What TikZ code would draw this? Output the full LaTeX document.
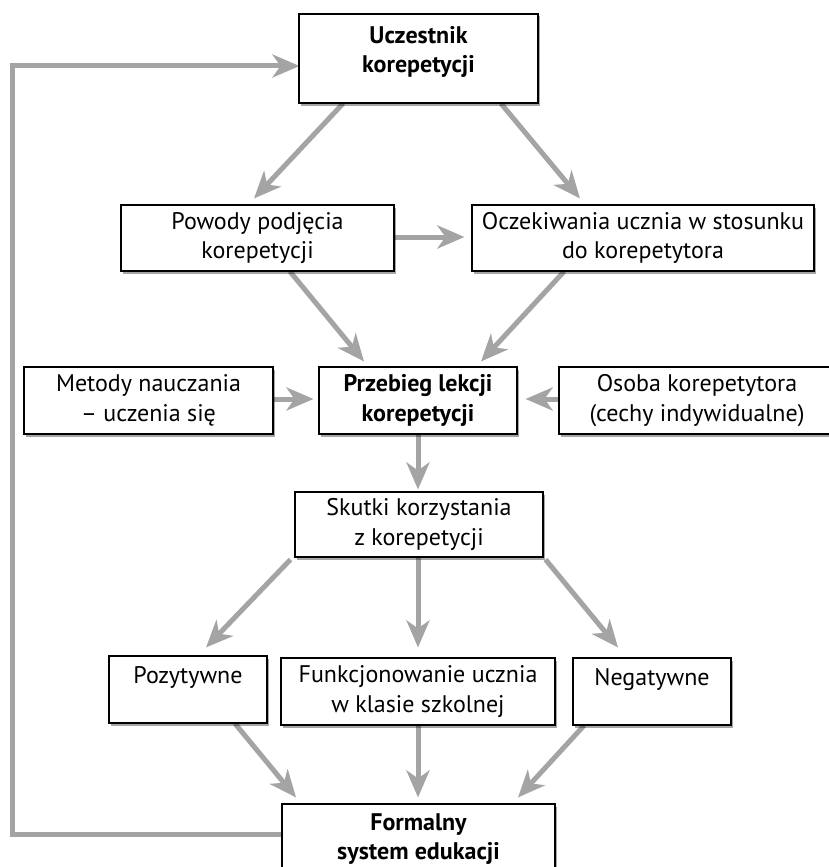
\documentclass[tikz,border=0pt]{standalone}
\usepackage{fontspec}
\setmainfont{PT Sans}
\usetikzlibrary{arrows.meta,shadows}
\pgfdeclarelayer{back}
\pgfdeclarelayer{bg}
\pgfsetlayers{back,bg,main}
\definecolor{arrgray}{HTML}{A4A4A4}
\tikzset{
  box/.style={draw=black, line width=1.1pt, fill=white, rectangle, inner sep=0pt,
    align=center, font=\fontsize{24}{29.5}\selectfont,
    drop shadow={shadow xshift=2pt, shadow yshift=-2.5pt, fill=black, opacity=0.35}},
  bbox/.style={box, font=\fontsize{24}{29.5}\selectfont\bfseries},
  conn/.style={draw=arrgray, line width=5pt,
    -{Stealth[length=27pt,width=23pt,inset=8pt]}}
}
\begin{document}
\begin{tikzpicture}[x=1pt,y=-1pt]
\useasboundingbox (0,0) rectangle (829,867);
\begin{pgfonlayer}{back}
\fill[white] (0,0) rectangle (829,867);
\end{pgfonlayer}
% boxes
\node[bbox, minimum width=239pt, minimum height=89pt] (ucz) at (418.5,58.5) {Uczestnik\\korepetycji\\[-11pt]\mbox{}};
\node[box, minimum width=273pt, minimum height=66pt] (pow) at (257.5,238) {Powody podjęcia\\korepetycji};
\node[box, minimum width=342pt, minimum height=66pt] (ocz) at (643,238) {Oczekiwania ucznia w stosunku\\do korepetytora};
\node[box, minimum width=249pt, minimum height=67pt] (met) at (148.5,400.5) {Metody nauczania\\– uczenia się};
\node[bbox, minimum width=198pt, minimum height=67pt] (prz) at (418,400.5) {Przebieg lekcji\\korepetycji};
\node[box, minimum width=276pt, minimum height=67pt] (oso) at (697,400.5) {Osoba korepetytora\\(cechy indywidualne)};
\node[box, minimum width=248pt, minimum height=65pt] (sku) at (419,524.5) {Skutki korzystania\\z korepetycji};
\node[box, minimum width=158pt, minimum height=67pt] (poz) at (188,689.5) {Pozytywne\\\mbox{}};
\node[box, minimum width=274pt, minimum height=67pt] (fun) at (418,691.5) {Funkcjonowanie ucznia\\w klasie szkolnej};
\node[box, minimum width=158pt, minimum height=67pt] (neg) at (652,691.5) {Negatywne\\\mbox{}};
\node[bbox, minimum width=273pt, minimum height=70pt] (for) at (418.5,839) {Formalny\\system edukacji};
\coordinate (fb) at (12,834);
% connectors
\begin{pgfonlayer}{bg}
\draw[conn] ([xshift=-75.5pt]ucz.south) -- ([xshift=-3.5pt,yshift=6pt]pow.north);
\draw[conn] ([xshift=82.5pt]ucz.south) -- ([xshift=-63pt,yshift=6pt]ocz.north);
\draw[conn, shorten >=7pt] ([yshift=1pt]pow.east) -- ([yshift=1pt]ocz.west);
\draw[conn] ([xshift=32.5pt]pow.south) -- ([xshift=-54pt,yshift=5pt]prz.north);
\draw[conn] ([xshift=-79pt]ocz.south) -- ([xshift=63pt,yshift=5pt]prz.north);
\draw[conn, shorten >=5pt] ([yshift=1.5pt]met.east) -- ([yshift=1.5pt]prz.west);
\draw[conn, shorten >=8pt] ([yshift=1.5pt]oso.west) -- ([yshift=1.5pt]prz.east);
\draw[conn, shorten >=2pt] (prz.south) -- (prz.south |- sku.north);
\draw[conn] ([xshift=-4pt,yshift=-2pt]sku.south west) -- ([xshift=18pt,yshift=8pt]poz.north);
\draw[conn, shorten >=10pt] (sku.south -| fun.north) -- (fun.north);
\draw[conn] ([xshift=2pt,yshift=-2pt]sku.south east) -- ([xshift=-34pt,yshift=10pt]neg.north);
\draw[conn] ([xshift=47pt]poz.south) -- ([xshift=-122.5pt,yshift=6pt]for.north);
\draw[conn, shorten >=6pt] (fun.south) -- (fun.south |- for.north);
\draw[conn] ([xshift=-68pt]neg.south) -- ([xshift=99.5pt,yshift=6pt]for.north);
\draw[conn, shorten >=-1pt] ([yshift=5pt]for.west) -- (fb) |- ([yshift=-7.5pt]ucz.west);
\end{pgfonlayer}
\end{tikzpicture}
\end{document}
